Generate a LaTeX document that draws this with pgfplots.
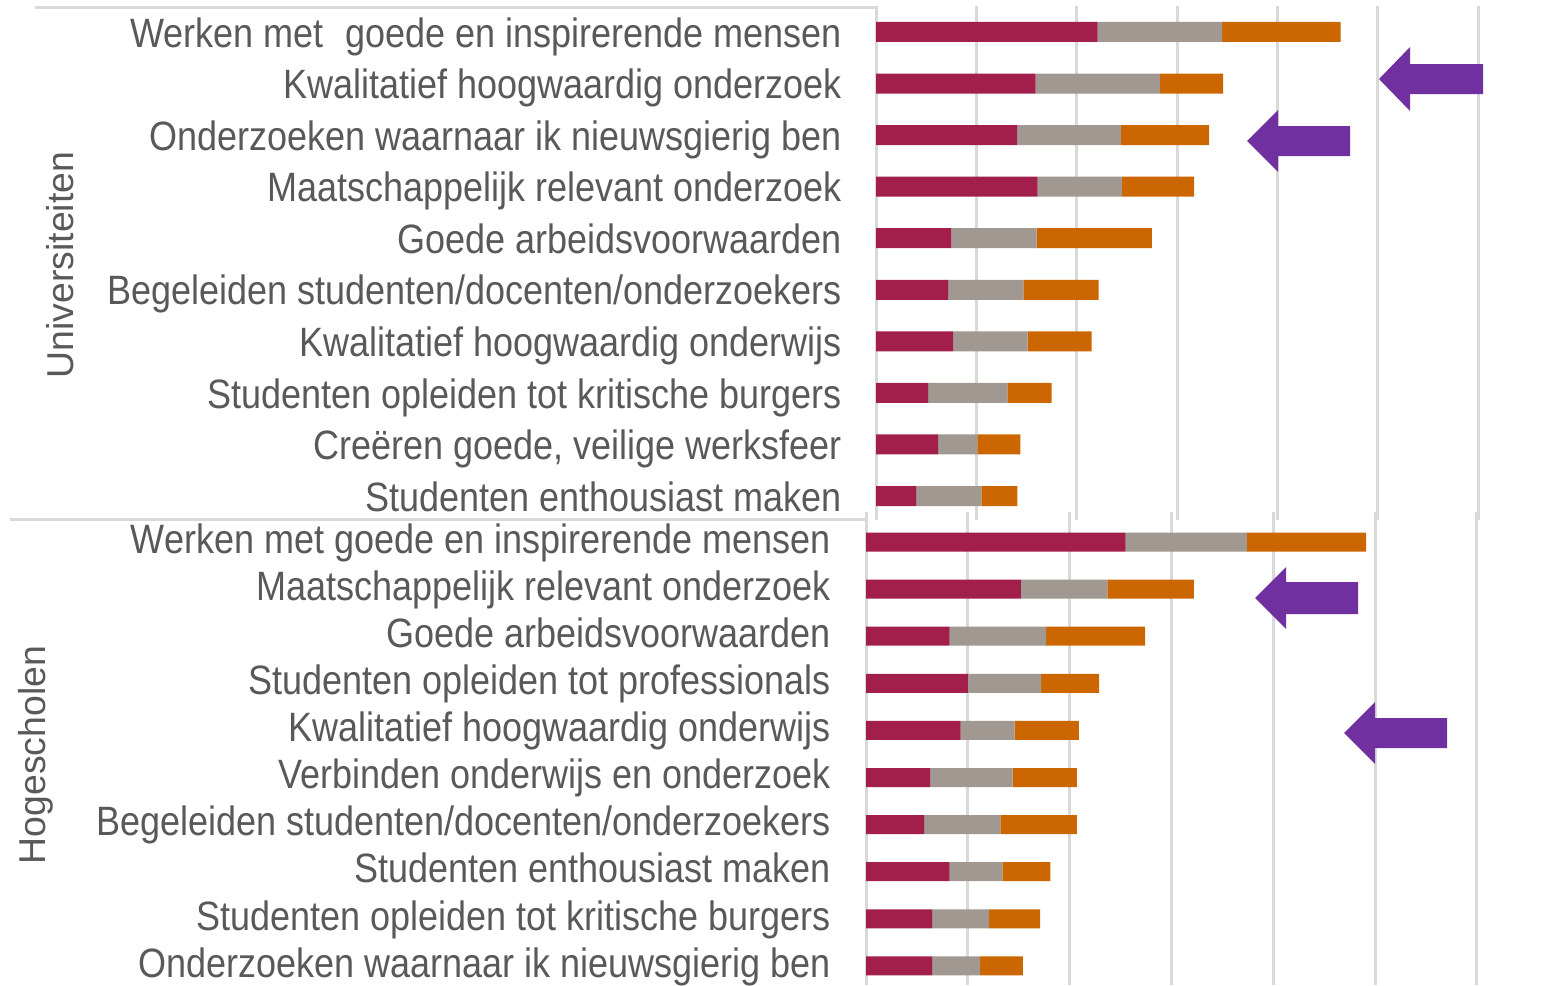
\documentclass[border=0pt]{standalone}
\usepackage{pgfplots}
\pgfplotsset{compat=1.18}
\usepackage{fontspec}
\setmainfont{Liberation Sans}[FakeStretch=0.878]
\newfontfamily\grpfont{Liberation Sans}
\definecolor{cRed}{HTML}{A21E4B}
\definecolor{cGray}{HTML}{A09891}
\definecolor{cOrange}{HTML}{CC6600}
\definecolor{cPurple}{HTML}{7030A0}
\definecolor{cGrid}{HTML}{D9D9D9}
\definecolor{cText}{HTML}{595959}
\pgfplotsset{panel/.style={
  xbar stacked, scale only axis, y dir=reverse,
  xmin=0, xmax=6, xtick={0,...,6}, xticklabels={},
  xmajorgrids, major grid style={cGrid, line width=1.5pt},
  axis line style={draw=none}, major tick length=0pt,
  ytick={0,...,9},
  yticklabel style={anchor=base east, inner sep=0pt, font=\fontsize{20.5}{22}\selectfont, text=cText},
  every axis plot/.append style={draw=none},
  clip=false,
}}
\begin{document}
\begin{tikzpicture}
\useasboundingbox (0,0) rectangle (781pt,-492.5pt);
% top panel
\begin{axis}[panel, at={(438pt,-3.1pt)}, anchor=north west,
  width=301pt, height=256.9pt, ymin=-0.5, ymax=9.465, bar width=10pt,
  yticklabel style={xshift=-17pt, yshift=-7.6pt},
  yticklabels={Werken met\hspace{0.28em}\ goede en inspirerende mensen,
    Kwalitatief hoogwaardig onderzoek,
    Onderzoeken waarnaar ik nieuwsgierig ben,
    Maatschappelijk relevant onderzoek,
    Goede arbeidsvoorwaarden,
    Begeleiden studenten/docenten/onderzoekers,
    Kwalitatief hoogwaardig onderwijs,
    Studenten opleiden tot kritische burgers,
    {Creëren goede, veilige werksfeer},
    Studenten enthousiast maken\hspace{4.5pt}}]
\addplot[fill=cRed] coordinates {(2.21,0) (1.59,1) (1.41,2) (1.61,3) (0.75,4) (0.72,5) (0.77,6) (0.52,7) (0.62,8) (0.40,9)};
\addplot[fill=cGray] coordinates {(1.24,0) (1.24,1) (1.03,2) (0.84,3) (0.85,4) (0.75,5) (0.74,6) (0.79,7) (0.39,8) (0.65,9)};
\addplot[fill=cOrange] coordinates {(1.18,0) (0.63,1) (0.88,2) (0.72,3) (1.15,4) (0.75,5) (0.64,6) (0.44,7) (0.43,8) (0.36,9)};
\end{axis}
% bottom panel
\begin{axis}[panel, at={(433pt,-256pt)}, anchor=north west,
  width=305.5pt, height=236.5pt, ymin=-0.637, ymax=9.406, bar width=9.5pt,
  yticklabel style={xshift=-17.5pt, yshift=-5.6pt},
  yticklabels={Werken met goede en inspirerende mensen,
    Maatschappelijk relevant onderzoek\hspace{5pt},
    Goede arbeidsvoorwaarden\hspace{5pt},
    Studenten opleiden tot professionals,
    Kwalitatief hoogwaardig onderwijs,
    Verbinden onderwijs en onderzoek,
    Begeleiden studenten/docenten/onderzoekers,
    Studenten enthousiast maken\hspace{5pt},
    Studenten opleiden tot kritische burgers,
    Onderzoeken waarnaar ik nieuwsgierig ben}]
\addplot[fill=cRed] coordinates {(2.55,0) (1.52,1) (0.82,2) (1.00,3) (0.93,4) (0.63,5) (0.57,6) (0.82,7) (0.65,8) (0.65,9)};
\addplot[fill=cGray] coordinates {(1.19,0) (0.85,1) (0.95,2) (0.72,3) (0.53,4) (0.81,5) (0.75,6) (0.52,7) (0.56,8) (0.47,9)};
\addplot[fill=cOrange] coordinates {(1.17,0) (0.85,1) (0.97,2) (0.57,3) (0.63,4) (0.63,5) (0.75,6) (0.47,7) (0.50,8) (0.42,9)};
\end{axis}
% group separator lines
\draw[cGrid, line width=1.5pt] (17.5pt,-3.5pt) -- (438pt,-3.5pt);
\draw[cGrid, line width=1.5pt] (5pt,-259.75pt) -- (433pt,-259.75pt);
% group labels
\node[rotate=90, text=cText, font=\grpfont\fontsize{18.7}{20}\selectfont] at (30pt,-132.5pt) {Universiteiten};
\node[rotate=90, text=cText, font=\grpfont\fontsize{18.7}{20}\selectfont] at (18pt,-377.5pt) {Hogescholen};
% arrows (px/2 = pt)
\fill[cPurple] (689.5pt,-39.5pt) -- (705pt,-23.5pt) -- (705pt,-32pt) -- (741.5pt,-32pt) -- (741.5pt,-47pt) -- (705pt,-47pt) -- (705pt,-55.5pt) -- cycle;
\fill[cPurple] (623.5pt,-70.5pt) -- (639pt,-55pt) -- (639pt,-63pt) -- (675pt,-63pt) -- (675pt,-78pt) -- (639pt,-78pt) -- (639pt,-86pt) -- cycle;
\fill[cPurple] (627.5pt,-299pt) -- (643pt,-283.5pt) -- (643pt,-291pt) -- (679pt,-291pt) -- (679pt,-307pt) -- (643pt,-307pt) -- (643pt,-314.5pt) -- cycle;
\fill[cPurple] (672pt,-366.5pt) -- (687.5pt,-351pt) -- (687.5pt,-359pt) -- (723.5pt,-359pt) -- (723.5pt,-374pt) -- (687.5pt,-374pt) -- (687.5pt,-382pt) -- cycle;
\end{tikzpicture}
\end{document}
